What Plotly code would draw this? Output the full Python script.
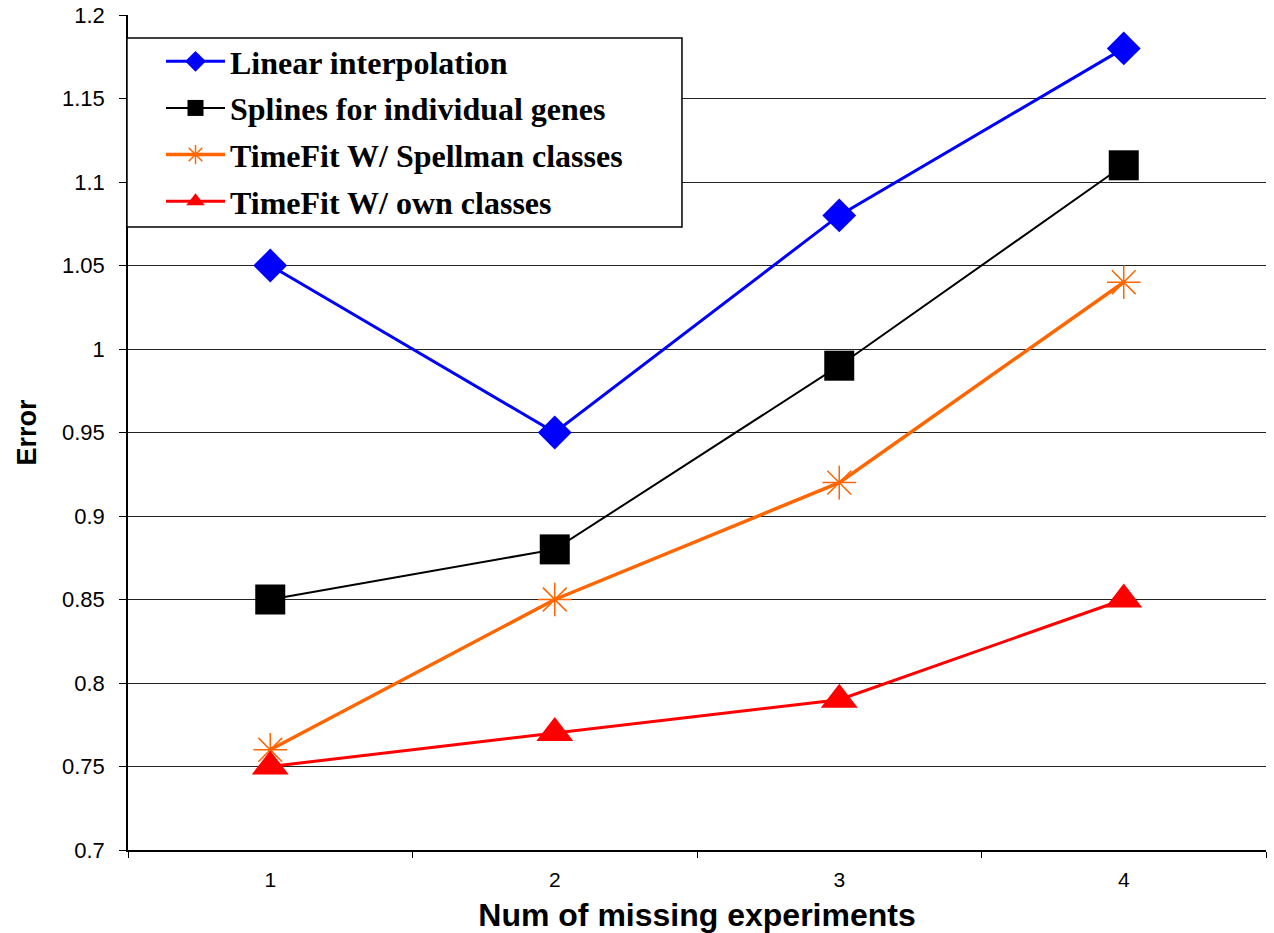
import plotly.graph_objects as go

x_vals = [1, 2, 3, 4]
linear = [1.05, 0.95, 1.08, 1.18]
splines = [0.85, 0.88, 0.99, 1.11]
spellman = [0.76, 0.85, 0.92, 1.04]
own = [0.75, 0.77, 0.79, 0.85]
names = ["Linear interpolation", "Splines for individual genes",
         "TimeFit W/ Spellman classes", "TimeFit W/ own classes"]
y_ticks = [0.7, 0.75, 0.8, 0.85, 0.9, 0.95, 1.0, 1.05, 1.1, 1.15, 1.2]
y_ticktext = ["0.7", "0.75", "0.8", "0.85", "0.9", "0.95", "1", "1.05", "1.1", "1.15", "1.2"]

fig = go.Figure()
fig.add_trace(go.Scatter(x=x_vals, y=linear, name=names[0], mode="lines+markers",
                         legendgroup="a",
                         line=dict(color="#0000FF", width=3),
                         marker=dict(symbol="diamond", size=26, color="#0000FF")))
fig.add_trace(go.Scatter(x=x_vals, y=splines, name=names[1], mode="lines+markers",
                         legendgroup="b",
                         line=dict(color="#000000", width=2),
                         marker=dict(symbol="square", size=30, color="#000000")))
fig.add_trace(go.Scatter(x=x_vals, y=spellman, name=names[2], mode="lines+markers",
                         legendgroup="c",
                         line=dict(color="#FF6600", width=3.5),
                         marker=dict(symbol="asterisk-open", size=28,
                                     line=dict(color="#FF6600", width=1.5))))
fig.add_trace(go.Scatter(x=x_vals, y=own, name=names[3], mode="lines+markers",
                         legendgroup="d",
                         line=dict(color="#FF0000", width=3),
                         marker=dict(symbol="triangle-up", size=32, color="#FF0000")))

# legend frame (white box with black border)
fig.add_shape(type="rect", xref="paper", yref="paper",
              x0=-0.0009, x1=0.4868, y0=0.7461, y1=0.9725,
              fillcolor="white", line=dict(color="black", width=1.5), layer="above")

fig.update_layout(
    width=1274, height=933,
    margin=dict(l=128, r=8, t=15, b=83),
    paper_bgcolor="white", plot_bgcolor="white",
    font=dict(family="Liberation Sans, Arial", color="black"),
    showlegend=True,
    legend=dict(
        x=0.029, xanchor="left", y=0.9772, yanchor="top",
        bgcolor="rgba(0,0,0,0)", borderwidth=0,
        font=dict(family="Liberation Serif, Times New Roman", size=32, color="black",
                  weight="bold"),
        traceorder="grouped", tracegroupgap=2, itemwidth=59,
    ),
    xaxis=dict(
        range=[0.5, 4.5], tickmode="array", tickvals=x_vals,
        ticktext=[str(v) for v in x_vals], automargin=False,
        ticks="", showgrid=False, zeroline=False,
        showline=True, linecolor="black", linewidth=1.5,
        tickfont=dict(size=21), ticklabelstandoff=10,
        minor=dict(tick0=0.5, dtick=1, ticks="outside", ticklen=6,
                   tickcolor="black", tickwidth=1, showgrid=False),
        title=dict(text="<b>Num of missing experiments</b>",
                   font=dict(size=32), standoff=16),
    ),
    yaxis=dict(
        range=[0.7, 1.2], tickmode="array", tickvals=y_ticks, ticktext=y_ticktext,
        automargin=False,
        ticks="outside", ticklen=7, tickcolor="black", tickwidth=1,
        showgrid=True, gridcolor="#222222", gridwidth=1, zeroline=False,
        showline=True, linecolor="black", linewidth=1.5,
        tickfont=dict(size=22), ticklabelstandoff=10,
        title=dict(text="<b>Error</b>", font=dict(size=27), standoff=18),
    ),
)

fig.write_html("out.html")
